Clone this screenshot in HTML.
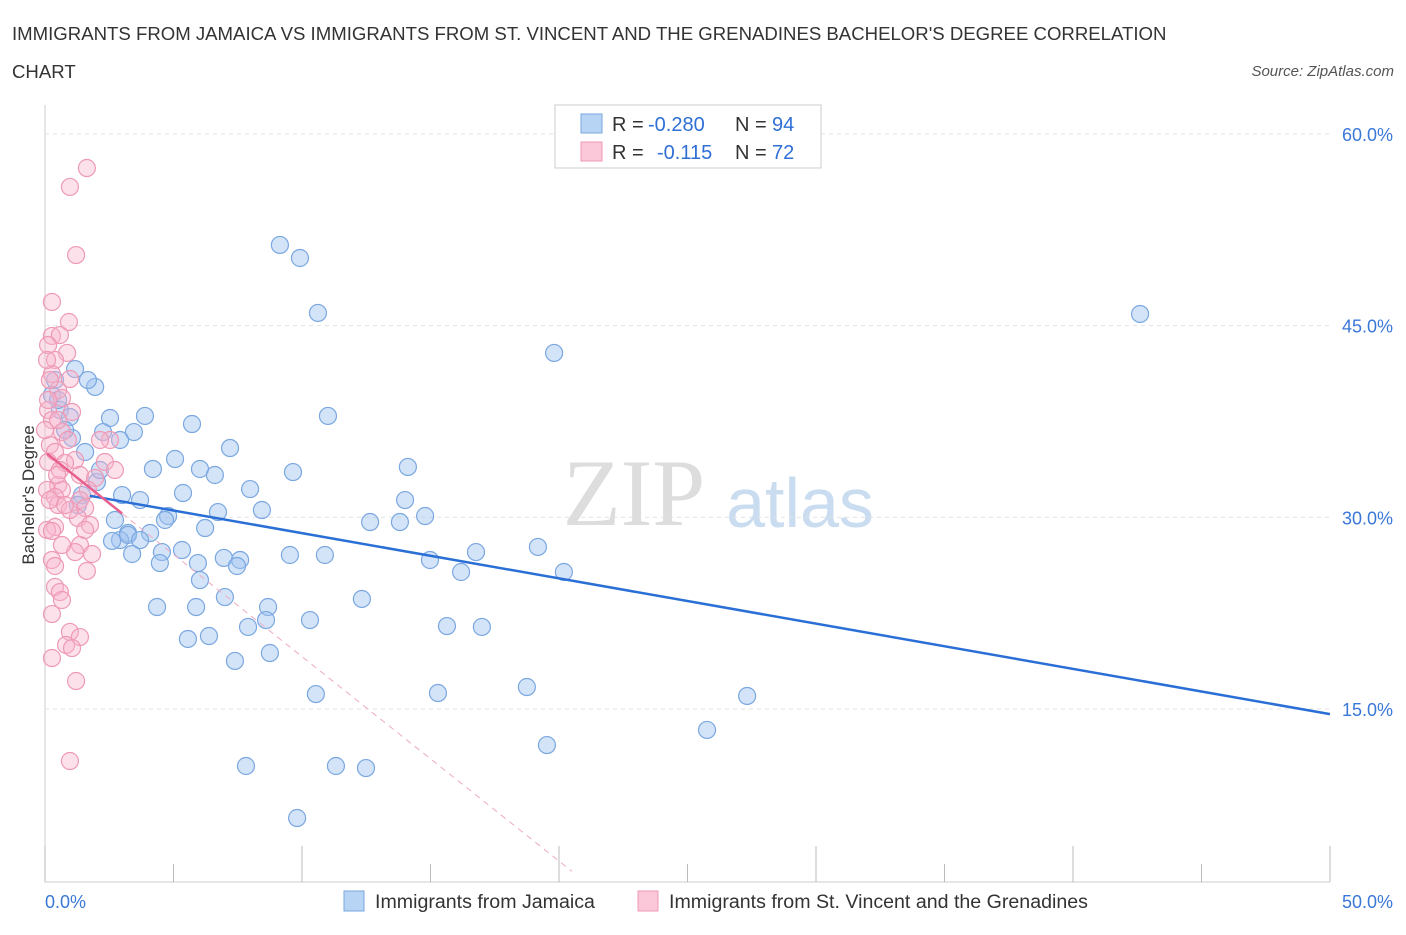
<!DOCTYPE html>
<html><head><meta charset="utf-8"><style>
body{margin:0;background:#fff;font-family:"Liberation Sans",sans-serif}
</style></head><body>
<svg id="c" width="1406" height="930" xmlns="http://www.w3.org/2000/svg">
<text x="12" y="40" font-size="18.6" fill="#333">IMMIGRANTS FROM JAMAICA VS IMMIGRANTS FROM ST. VINCENT AND THE GRENADINES BACHELOR'S DEGREE CORRELATION</text>
<text x="12" y="78" font-size="18.6" fill="#333">CHART</text>
<text x="1394" y="76" font-size="15" fill="#555" font-style="italic" text-anchor="end">Source: ZipAtlas.com</text>
<text x="634" y="525" font-size="95" fill="#ddd" font-family="Liberation Serif" text-anchor="middle">ZIP</text>
<text x="800" y="527" font-size="70" fill="#c9dcf0" text-anchor="middle">atlas</text>
<text transform="translate(34,495) rotate(-90)" font-size="17" fill="#333" text-anchor="middle">Bachelor's Degree</text>
<g id="grid"></g><g id="pts"></g><g id="lines"></g>
<g>
<rect x="555" y="105" width="266" height="63" fill="#fff" stroke="#ccc"/>
<rect x="581" y="114" width="21" height="19" fill="#b8d4f5" stroke="#7aa7e0"/>
<rect x="581" y="142" width="21" height="19" fill="#fac8d8" stroke="#ee9ab5"/>
<text x="612" y="131" font-size="20" fill="#333">R =</text>
<text x="648" y="131" font-size="20" fill="#2f6fd6">-0.280</text>
<text x="735" y="131" font-size="20" fill="#333">N =</text>
<text x="772" y="131" font-size="20" fill="#2f6fd6">94</text>
<text x="612" y="159" font-size="20" fill="#333">R =</text>
<text x="657" y="159" font-size="20" fill="#2f6fd6">-0.115</text>
<text x="735" y="159" font-size="20" fill="#333">N =</text>
<text x="772" y="159" font-size="20" fill="#2f6fd6">72</text>
</g>
<g>
<rect x="344" y="891" width="20" height="20" fill="#b8d4f5" stroke="#7aa7e0"/>
<text x="375" y="908" font-size="19.6" fill="#333">Immigrants from Jamaica</text>
<rect x="638" y="891" width="20" height="20" fill="#fac8d8" stroke="#ee9ab5"/>
<text x="669" y="908" font-size="19.6" fill="#333">Immigrants from St. Vincent and the Grenadines</text>
</g>
<text x="45" y="908" font-size="18" fill="#3a78d8">0.0%</text>
<text x="1393" y="908" font-size="18" fill="#3a78d8" text-anchor="end">50.0%</text>
</svg>
<script>
const yTicks=[15,30,45,60];
const blueX=[],blueY=[],pinkX=[],pinkY=[];
const bluePx=[[280,245],[300,258],[318,313],[1140,314],[554,353],[95,387],[75,369],[55,380],[60,410],[70,417],[110,418],[145,416],[328,416],[192,424],[134,432],[103,432],[230,448],[72,438],[85,452],[175,459],[408,467],[153,469],[200,469],[293,472],[215,475],[97,482],[183,493],[250,489],[82,495],[122,495],[140,500],[405,500],[168,516],[218,512],[262,510],[425,516],[370,522],[400,522],[115,520],[205,528],[150,533],[128,533],[120,540],[538,547],[182,550],[162,552],[132,554],[290,555],[325,555],[224,558],[240,560],[430,560],[476,552],[160,563],[198,563],[237,566],[461,572],[564,572],[362,599],[225,597],[157,607],[196,607],[268,607],[266,620],[310,620],[248,627],[447,626],[482,627],[188,639],[209,636],[270,653],[235,661],[527,687],[316,694],[438,693],[747,696],[707,730],[547,745],[246,766],[336,766],[366,768],[297,818],[128,535],[112,541],[88,380],[52,395],[65,430],[120,440],[165,520],[140,540],[100,470],[78,505],[58,400],[200,580]];
const pinkPx=[[87,168],[70,187],[76,255],[52,302],[69,322],[52,336],[60,335],[48,345],[67,353],[55,360],[52,374],[70,379],[58,390],[62,398],[48,410],[72,412],[52,420],[110,440],[62,432],[50,445],[55,452],[75,460],[48,462],[65,463],[105,462],[115,470],[80,475],[95,478],[58,485],[47,490],[62,490],[55,497],[88,490],[80,500],[58,505],[85,508],[55,527],[47,530],[52,531],[78,518],[90,525],[80,545],[75,552],[92,554],[52,560],[55,566],[87,571],[55,587],[60,592],[62,600],[52,614],[70,632],[80,637],[66,645],[72,648],[52,658],[76,681],[70,761],[47,360],[50,380],[48,400],[60,470],[100,440],[68,440],[45,430],[50,500],[62,545],[70,510],[85,530],[58,420],[65,505],[57,475]];
bluePx.forEach(p=>{blueX.push(+((p[0]-45)/25.7).toFixed(2));blueY.push(+((900.7-p[1])/12.78).toFixed(2));});
pinkPx.forEach(p=>{pinkX.push(+((p[0]-45)/25.7).toFixed(2));pinkY.push(+((900.7-p[1])/12.78).toFixed(2));});
const blueTrend=[32.3,14.6], pinkTrend=[35.1,-1.6];
const X=v=>45+v*25.7, Y=v=>900.7-v*12.78;
const NS="http://www.w3.org/2000/svg";
function mk(t,a,p){const e=document.createElementNS(NS,t);for(const k in a)e.setAttribute(k,a[k]);p.appendChild(e);return e;}
const g=document.getElementById('grid');
mk('line',{x1:45,y1:105,x2:45,y2:882,stroke:'#ccc'},g);
mk('line',{x1:45,y1:882,x2:1330,y2:882,stroke:'#ccc'},g);
for(let i=0;i<=10;i++){const x=45+i*128.5;const l=mk('line',{x1:x,y1:882,x2:x,y2:i%2==0?846:864,stroke:'#bbb'},g);}
yTicks.forEach(t=>{const l=mk('line',{x1:45,y1:Y(t),x2:1330,y2:Y(t),stroke:'#e2e2e2','stroke-dasharray':'4,4'},g);

const tx=mk('text',{x:1393,y:Y(t)+7,'font-size':18,fill:'#3a78d8','text-anchor':'end'},g);tx.textContent=t.toFixed(1)+'%';
});
const pg=document.getElementById('pts');
blueX.forEach((x,i)=>{const c=mk('circle',{cx:X(x),cy:Y(blueY[i]),r:8.5,fill:'rgba(160,195,240,0.45)',stroke:'#7aa7e0','stroke-width':1.2},pg);
});
pinkX.forEach((x,i)=>{const c=mk('circle',{cx:X(x),cy:Y(pinkY[i]),r:8.5,fill:'rgba(248,180,205,0.4)',stroke:'#ee9ab5','stroke-width':1.2},pg);
});
const lg=document.getElementById('lines');
const bs=(x)=>blueTrend[0]+(blueTrend[1]-blueTrend[0])/50*x;
let l=mk('line',{x1:X(1.75),y1:Y(bs(1.75)),x2:X(50),y2:Y(bs(50)),stroke:'#2a6fd6','stroke-width':2.5},lg);

const ps=(x)=>pinkTrend[0]+pinkTrend[1]*x;
l=mk('line',{x1:X(0.08),y1:Y(ps(0.08)),x2:X(3),y2:Y(ps(3)),stroke:'#e8608e','stroke-width':2.5},lg);

l=mk('line',{x1:X(3),y1:Y(ps(3)),x2:X(20.5),y2:Y(ps(20.5)),stroke:'#eeaac0','stroke-width':1,'stroke-dasharray':'6,5'},lg);

</script>
</body></html>
